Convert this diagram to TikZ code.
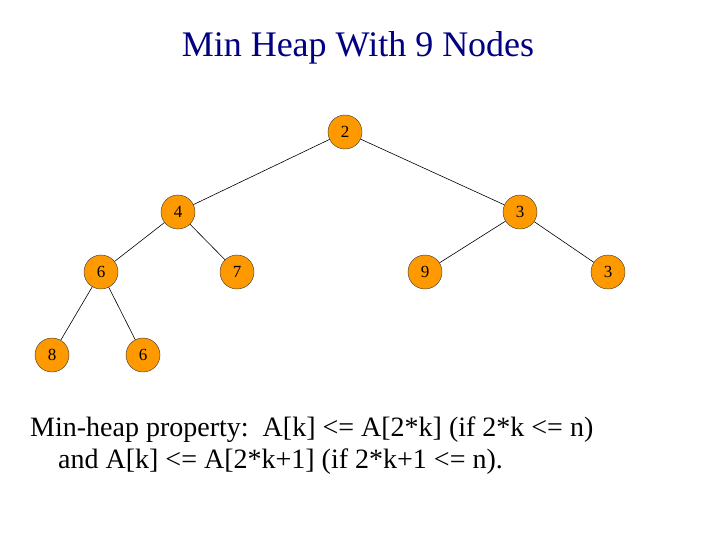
\documentclass[tikz,border=0pt]{standalone}
\usepackage{fontspec}
\setmainfont{Liberation Serif}
\begin{document}
\begin{tikzpicture}[x=1pt,y=-1pt,
  hn/.style={circle,draw=black!80,fill={rgb,255:red,255;green,153;blue,0},minimum size=34pt,inner sep=0pt,font=\fontsize{17}{19}\selectfont},
  ed/.style={draw=black,line width=0.6pt}]
\useasboundingbox (0,0) rectangle (720,540);
\node[font=\fontsize{36}{40}\selectfont,text={rgb,255:red,0;green,0;blue,128}] (t) at (358,48) {Min Heap With 9 Nodes};
\node[hn] (a) at (345,132) {2};
\node[hn] (b) at (178,212) {4};
\node[hn] (c) at (520,212) {3};
\node[hn] (d) at (101,272) {6};
\node[hn] (e) at (237,272) {7};
\node[hn] (f) at (425,272) {9};
\node[hn] (g) at (608,272) {3};
\node[hn] (h) at (52,355) {8};
\node[hn] (i) at (143,355) {6};
\draw[ed] (a)--(b); \draw[ed] (a)--(c);
\draw[ed] (b)--(d); \draw[ed] (b)--(e);
\draw[ed] (c)--(f); \draw[ed] (c)--(g);
\draw[ed] (d)--(h); \draw[ed] (d)--(i);
\node[anchor=west,align=left,font=\fontsize{28}{32}\selectfont,inner sep=0pt] (p) at (30,446)
 {Min-heap property:\ \ A[k] <= A[2*k] (if 2*k <= n)\\\hspace*{28pt}and A[k] <= A[2*k+1] (if 2*k+1 <= n).};
\end{tikzpicture}
\end{document}
